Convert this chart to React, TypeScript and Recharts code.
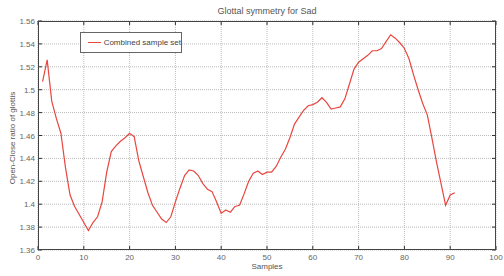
import React from 'react'
import { LineChart, Line, XAxis, YAxis, CartesianGrid } from 'recharts'

// Glottal symmetry (open/close ratio) per sample
const samples = Array.from({ length: 91 }, (_, i) => i + 1)
const ratios = [
  1.507, 1.526, 1.490, 1.475, 1.462, 1.432, 1.408, 1.398, 1.391, 1.384,
  1.377, 1.384, 1.389, 1.402, 1.428, 1.446, 1.451, 1.455, 1.458, 1.462,
  1.459, 1.438, 1.424, 1.410, 1.399, 1.393, 1.387, 1.384, 1.389, 1.402,
  1.414, 1.425, 1.430, 1.429, 1.425, 1.418, 1.413, 1.411, 1.402, 1.392,
  1.395, 1.393, 1.398, 1.399, 1.409, 1.420, 1.427, 1.429, 1.426, 1.428,
  1.428, 1.433, 1.441, 1.448, 1.458, 1.470, 1.476, 1.482, 1.486, 1.487,
  1.489, 1.493, 1.489, 1.483, 1.484, 1.485, 1.492, 1.505, 1.518, 1.524,
  1.527, 1.530, 1.534, 1.534, 1.536, 1.542, 1.548, 1.545, 1.541, 1.536,
  1.527, 1.513, 1.500, 1.488, 1.478, 1.458, 1.437, 1.418, 1.399, 1.408,
  1.410,
]
const xTicks = [0, 10, 20, 30, 40, 50, 60, 70, 80, 90, 100]
const yTicks = [1.36, 1.38, 1.4, 1.42, 1.44, 1.46, 1.48, 1.5, 1.52, 1.54, 1.56]

const data = samples.map((s, i) => ({ sample: s, ratio: ratios[i] }))

const W = 504
const H = 276
const M = { top: 21, right: 8, left: 0, bottom: 0 }
const Y_W = 38
const X_H = 26
const PLOT_TOP = M.top
const PLOT_BOTTOM = H - X_H
const PLOT_LEFT = Y_W
const PLOT_RIGHT = W - M.right

const FONT = 'Arial, "Liberation Sans", sans-serif'
const TEXT = '#666'
const RED = '#e8463f'

// matlab style ticks: pointing into the plot on both sides
const XTick = (props: any) => {
  const { x, payload } = props
  return (
    <g>
      <line x1={x} x2={x} y1={PLOT_BOTTOM} y2={PLOT_BOTTOM - 4} stroke="#333" />
      <line x1={x} x2={x} y1={PLOT_TOP} y2={PLOT_TOP + 4} stroke="#333" />
      <text x={x} y={PLOT_BOTTOM + 10} textAnchor="middle" fontSize={8} fill={TEXT} fontFamily={FONT}>
        {payload.value}
      </text>
    </g>
  )
}

const YTick = (props: any) => {
  const { y, payload } = props
  return (
    <g>
      <line x1={PLOT_LEFT} x2={PLOT_LEFT + 4} y1={y} y2={y} stroke="#333" />
      <line x1={PLOT_RIGHT} x2={PLOT_RIGHT - 4} y1={y} y2={y} stroke="#333" />
      <text x={PLOT_LEFT - 3} y={y + 3} textAnchor="end" fontSize={8} fill={TEXT} fontFamily={FONT}>
        {Number(payload.value.toFixed(2)).toString()}
      </text>
    </g>
  )
}

export default function App() {
  return (
    <div style={{ position: 'absolute', left: 0, top: 0, width: W, height: H, background: '#fff', fontFamily: FONT }}>
      <LineChart width={W} height={H} data={data} margin={M}>
        <CartesianGrid stroke="#bbb" strokeDasharray="1 1" horizontalValues={yTicks} verticalValues={xTicks} />
        <XAxis
          dataKey="sample"
          type="number"
          domain={[0, 100]}
          ticks={xTicks}
          height={X_H}
          tickSize={0}
          tickMargin={0}
          tickLine={false}
          axisLine={false}
          tick={<XTick />}
          interval={0}
        />
        <YAxis
          type="number"
          domain={[1.36, 1.56]}
          ticks={yTicks}
          width={Y_W}
          tickSize={0}
          tickMargin={0}
          tickLine={false}
          axisLine={false}
          tick={<YTick />}
          interval={0}
          allowDataOverflow
        />
        <Line
          dataKey="ratio"
          stroke={RED}
          strokeWidth={1.2}
          dot={false}
          type="linear"
          isAnimationActive={false}
        />
      </LineChart>
      {/* axes box */}
      <div style={{ position: 'absolute', left: PLOT_LEFT, top: PLOT_TOP, width: PLOT_RIGHT - PLOT_LEFT, height: PLOT_BOTTOM - PLOT_TOP, border: '1px solid #444', boxSizing: 'border-box', pointerEvents: 'none' }} />
      <div style={{ position: 'absolute', left: 0, width: 534, top: 6, textAlign: 'center', fontSize: 9, color: '#555' }}>
        Glottal symmetry for Sad
      </div>
      <div style={{ position: 'absolute', left: 0, width: 534, top: 262, textAlign: 'center', fontSize: 8, color: '#555' }}>
        Samples
      </div>
      <div style={{ position: 'absolute', left: 12, top: 138, width: 0, height: 0 }}>
        <div style={{ position: 'absolute', transform: 'translate(-50%, -50%) rotate(-90deg)', whiteSpace: 'nowrap', fontSize: 8, color: '#555' }}>
          Open-Close ratio of glottis
        </div>
      </div>
      {/* legend */}
      <div style={{ position: 'absolute', left: 80, top: 32, width: 102, height: 21, border: '1px solid #666', boxSizing: 'border-box', background: '#fff', display: 'flex', alignItems: 'center' }}>
        <div style={{ width: 13, height: 1.5, background: RED, marginLeft: 7, marginRight: 3 }} />
        <span style={{ fontSize: 8, color: '#444', whiteSpace: 'nowrap' }}>Combined sample set</span>
      </div>
    </div>
  )
}
